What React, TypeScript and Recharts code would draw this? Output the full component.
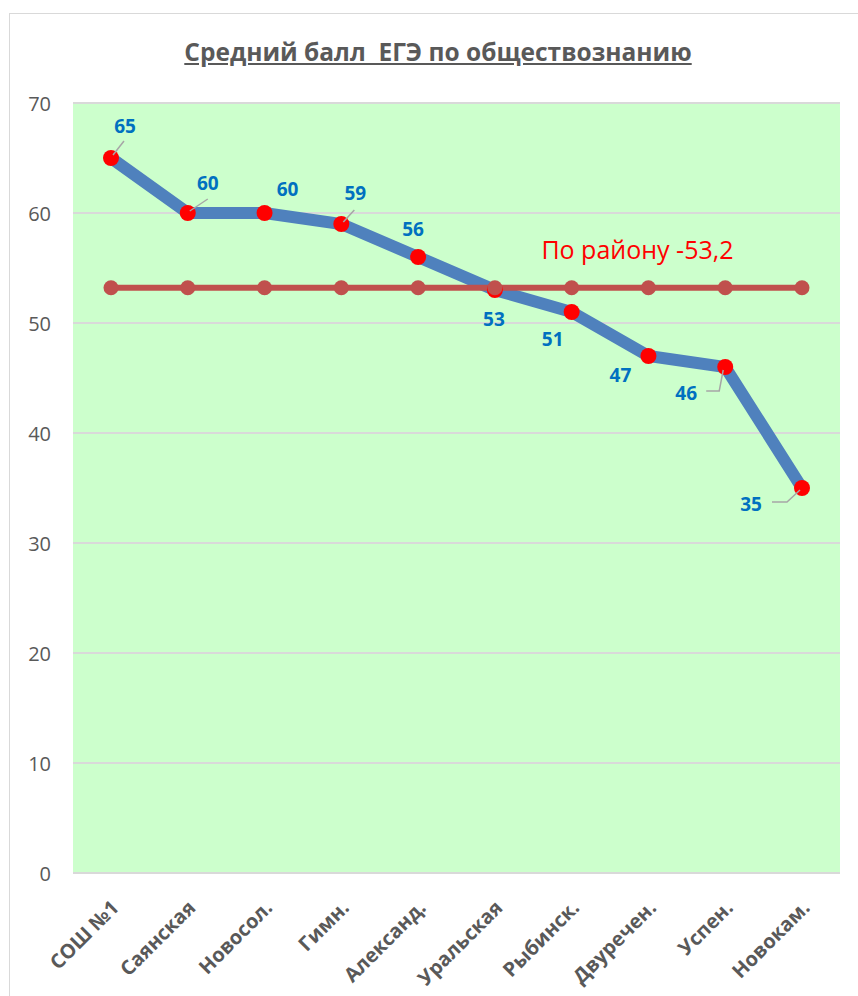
import React from 'react';
import { LineChart, Line, XAxis, YAxis, CartesianGrid, LabelList } from 'recharts';

const categories = ['СОШ №1', 'Саянская', 'Новосол.', 'Гимн.', 'Александ.', 'Уральская', 'Рыбинск.', 'Двуречен.', 'Успен.', 'Новокам.'];
const scores = [65, 60, 60, 59, 56, 53, 51, 47, 46, 35];
const districtAvg = 53.2;
const yTicks = [0, 10, 20, 30, 40, 50, 60, 70];
const titleText = 'Средний балл  ЕГЭ по обществознанию';
const avgLabelText = 'По району -53,2';

const data = categories.map((name, i) => ({ name, score: scores[i], avg: districtAvg }));

// label placement (style, relative to the point)
const labelOffsets: number[][] = [[14, -32], [20, -30], [23, -24], [14, -31], [-5, -28], [-1, 29], [-19, 27], [-28, 19], [-39, 26], [-51, 16]];
const leaders: Record<number, number[][]> = {
  0: [[2, -3], [13, -17]],
  1: [[2, -2], [20, -14]],
  3: [[2, -2], [13, -14]],
  8: [[-2, 3], [-6, 24], [-19, 24]],
  9: [[-2, 2], [-15, 14], [-30, 14]],
};

const FONT = '"Open Sans", "Noto Sans", sans-serif';

const ScoreLabel = (props: any) => {
  const { x, y, value, index } = props;
  const [dx, dy] = labelOffsets[index] || [0, -20];
  const lead = leaders[index];
  return (
    <g>
      {lead && (
        <polyline
          points={lead.map(([a, b]) => `${x + a},${y + b}`).join(' ')}
          fill="none"
          stroke="#A6A6A6"
          strokeWidth={1.5}
        />
      )}
      <text x={x + dx} y={y + dy} textAnchor="middle" dominantBaseline="central" fill="#0070C0" fontWeight="bold" fontSize={19} fontFamily={FONT}>
        {value}
      </text>
    </g>
  );
};

const AvgLabel = (props: any) => {
  const { x, y, index } = props;
  if (index !== 7) return null;
  return (
    <text x={x - 11} y={y - 39} textAnchor="middle" dominantBaseline="central" fill="#FF0000" fontSize={25} fontFamily={FONT}>
      {avgLabelText}
    </text>
  );
};

const XTick = (props: any) => {
  const { x, y, payload } = props;
  const ax = x + 9;
  const ay = y + 28;
  return (
    <text
      x={ax}
      y={ay}
      transform={`rotate(-45, ${ax}, ${ay})`}
      textAnchor="end"
      fill="#595959"
      fontWeight="bold"
      fontSize={20}
      fontFamily={FONT}
    >
      {payload.value}
    </text>
  );
};

const YTick = (props: any) => {
  const { y, payload } = props;
  return (
    <text x={51} y={y} textAnchor="end" dominantBaseline="central" fill="#595959" fontSize={20} fontFamily={FONT}>
      {payload.value}
    </text>
  );
};

export default function App() {
  return (
    <div style={{ position: 'absolute', left: 0, top: 0, width: 858, height: 996, background: '#fff', overflow: 'hidden' }}>
      <div style={{ position: 'absolute', left: 9, top: 13, width: 870, height: 1000, border: '1px solid #D9D9D9' }} />
      <div
        style={{
          position: 'absolute',
          left: 0,
          top: 35,
          width: 876,
          textAlign: 'center',
          fontFamily: FONT,
          fontWeight: 'bold',
          fontSize: 24.5,
          lineHeight: '33px',
          color: '#595959',
          textDecoration: 'underline',
          whiteSpace: 'pre',
        }}
      >
        {titleText}
      </div>
      <LineChart width={858} height={996} data={data} margin={{ top: 103, right: 18, bottom: 93, left: 0 }}>
        <CartesianGrid vertical={false} fill="#CCFFCC" stroke="#D9D9D9" strokeWidth={2} />
        <XAxis
          dataKey="name"
          type="category"
          scale="point"
          padding={{ left: 38, right: 38 }}
          interval={0}
          tickLine={false}
          axisLine={{ stroke: '#D9D9D9', strokeWidth: 2 }}
          tick={<XTick />}
        />
        <YAxis
          width={73}
          domain={[0, 70]}
          ticks={yTicks}
          interval={0}
          tickLine={false}
          axisLine={false}
          tick={<YTick />}
        />
        <Line
          dataKey="score"
          stroke="#4F81BD"
          strokeWidth={12}
          isAnimationActive={false}
          dot={{ r: 8, fill: '#FF0000', stroke: 'none', strokeWidth: 0 }}
          activeDot={false}
        >
          <LabelList dataKey="score" content={<ScoreLabel />} />
        </Line>
        <Line
          dataKey="avg"
          stroke="#C0504D"
          strokeWidth={6}
          isAnimationActive={false}
          dot={{ r: 7.5, fill: '#C0504D', stroke: 'none', strokeWidth: 0 }}
          activeDot={false}
        >
          <LabelList dataKey="avg" content={<AvgLabel />} />
        </Line>
      </LineChart>
    </div>
  );
}
